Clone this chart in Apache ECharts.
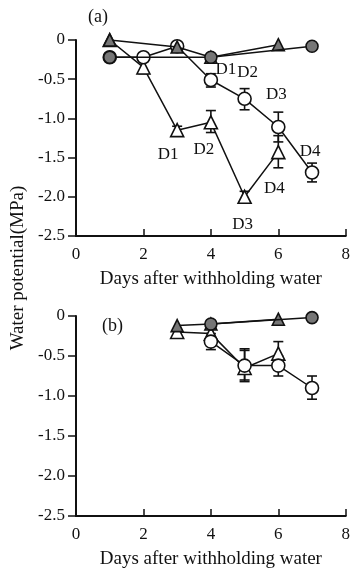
<!DOCTYPE html>
<html>
<head>
<meta charset="utf-8">
<style>
html,body{margin:0;padding:0;background:#fff;}
#chart{width:353px;height:573px;}
</style>
<script src="https://cdn.jsdelivr.net/npm/echarts@6/dist/echarts.min.js"></script>
</head>
<body>
<div id="chart"></div>
<script>
// ---------- DATA ----------
// x tick values and y tick values
const xTicks = [0, 2, 4, 6, 8];
const yTicks = [0, -0.5, -1.0, -1.5, -2.0, -2.5];

// Panel (a)
const aFilledCircleDays = [1, 4, 7];
const aFilledCircleVals = [-0.22, -0.22, -0.08];
const aFilledTriDays = [1, 3, 4, 6];
const aFilledTriVals = [0, -0.09, -0.22, -0.06];
const aOpenCircleDays = [1, 2, 3, 4, 5, 6, 7];
const aOpenCircleVals = [-0.22, -0.22, -0.08, -0.51, -0.75, -1.11, -1.69];
const aOpenCircleErrLo = [null, -0.25, -0.11, -0.60, -0.89, -1.30, -1.81];
const aOpenCircleErrHi = [null, -0.19, -0.05, -0.43, -0.62, -0.92, -1.57];
const aOpenCircleLabels = ['', '', '', 'D1', 'D2', 'D3', 'D4'];
const aOpenTriDays = [1, 2, 3, 4, 5, 6];
const aOpenTriVals = [0, -0.35, -1.15, -1.05, -2.0, -1.43];
const aOpenTriErrLo = [null, -0.43, -1.20, -1.18, -2.08, -1.63];
const aOpenTriErrHi = [null, -0.27, -1.10, -0.90, -1.93, -1.22];
const aOpenTriLabels = ['', '', 'D1', 'D2', 'D3', 'D4'];

// Panel (b)
const bFilledCircleDays = [4, 7];
const bFilledCircleVals = [-0.10, -0.02];
const bFilledTriDays = [3, 4, 6];
const bFilledTriVals = [-0.12, -0.10, -0.04];
const bOpenCircleDays = [4, 5, 6, 7];
const bOpenCircleVals = [-0.32, -0.62, -0.62, -0.90];
const bOpenCircleErrLo = [-0.42, -0.80, -0.75, -1.04];
const bOpenCircleErrHi = [-0.22, -0.41, -0.50, -0.75];
const bOpenTriDays = [3, 4, 5, 6];
const bOpenTriVals = [-0.20, -0.22, -0.65, -0.47];
const bOpenTriErrLo = [null, null, -0.82, -0.58];
const bOpenTriErrHi = [null, null, -0.43, -0.32];

// ---------- STYLE ----------
const FONT = '"Liberation Serif", "DejaVu Serif", serif';
const INK = '#111';
const GRAYFILL = '#767676';

// label offsets (pixels) for D-annotations
const openCircleLabelOffsets = {3: [15, -10], 4: [3, -26], 5: [-2, -32], 6: [-2, -21]};
const openTriLabelOffsets = {2: [-9, 24], 3: [-7, 27], 4: [-2, 28], 5: [-4, 36]};

function pts(days, vals, labels, offsets) {
  return days.map((d, i) => {
    const item = {value: [d, vals[i]]};
    if (labels && labels[i]) {
      item.label = {
        show: true, formatter: labels[i], position: 'inside',
        offset: offsets[i], color: INK, fontFamily: FONT, fontSize: 17
      };
    }
    return item;
  });
}
function errs(days, lo, hi) {
  const out = [];
  days.forEach((d, i) => {
    if (lo[i] != null && hi[i] != null) out.push([d, lo[i], hi[i]]);
  });
  return out;
}

function errorSeries(idx, data) {
  return {
    type: 'custom', xAxisIndex: idx, yAxisIndex: idx, z: 1,
    renderItem: function (params, api) {
      const x = api.value(0);
      const pLo = api.coord([x, api.value(1)]);
      const pHi = api.coord([x, api.value(2)]);
      const w = 5;
      const st = {stroke: INK, lineWidth: 1.6};
      return {
        type: 'group',
        children: [
          {type: 'line', shape: {x1: pLo[0], y1: pLo[1], x2: pHi[0], y2: pHi[1]}, style: st},
          {type: 'line', shape: {x1: pLo[0] - w, y1: pLo[1], x2: pLo[0] + w, y2: pLo[1]}, style: st},
          {type: 'line', shape: {x1: pHi[0] - w, y1: pHi[1], x2: pHi[0] + w, y2: pHi[1]}, style: st}
        ]
      };
    },
    data: data,
    silent: true
  };
}

function lineSeries(idx, data, symbol, filled, size, z) {
  return {
    type: 'line', xAxisIndex: idx, yAxisIndex: idx, z: z,
    data: data, symbol: symbol, symbolSize: size, showAllSymbol: true,
    lineStyle: {color: INK, width: 1.5},
    itemStyle: {color: filled ? GRAYFILL : '#fff', borderColor: INK, borderWidth: 1.6},
    emphasis: {disabled: true},
    animation: false
  };
}

function xAxis(idx) {
  return {
    type: 'value', gridIndex: idx, min: 0, max: 8, interval: 2,
    name: 'Days after withholding water', nameLocation: 'middle', nameGap: 34,
    nameTextStyle: {fontFamily: FONT, fontSize: 19, color: INK},
    axisLine: {show: true, onZero: false, lineStyle: {color: INK, width: 2}},
    axisTick: {show: true, inside: true, length: 7, lineStyle: {color: INK, width: 1.5}},
    axisLabel: {fontFamily: FONT, fontSize: 17, color: INK, margin: 10,
      formatter: v => xTicks.includes(v) ? String(v) : ''},
    splitLine: {show: false}
  };
}
function yAxis(idx) {
  return {
    type: 'value', gridIndex: idx, min: -2.5, max: 0, interval: 0.5,
    axisLine: {show: true, lineStyle: {color: INK, width: 2}},
    axisTick: {show: true, inside: false, length: 8, lineStyle: {color: INK, width: 1.5}},
    axisLabel: {fontFamily: FONT, fontSize: 17, color: INK, margin: 11,
      formatter: v => {
        const t = yTicks.find(y => Math.abs(y - v) < 1e-9);
        if (t === undefined) return '';
        return t === 0 ? '0' : t.toFixed(1);
      }},
    splitLine: {show: false}
  };
}

const chart = echarts.init(document.getElementById('chart'), null, {renderer: 'canvas'});
chart.setOption({
  backgroundColor: '#fff',
  animation: false,
  grid: [
    {left: 76, top: 40, width: 274, height: 196},
    {left: 76, top: 316, width: 274, height: 200}
  ],
  xAxis: [xAxis(0), xAxis(1)],
  yAxis: [yAxis(0), yAxis(1)],
  graphic: [
    {type: 'text', left: 88, top: 8, style: {text: '(a)', font: '18px ' + FONT, fill: INK}},
    {type: 'text', left: 102, top: 317, style: {text: '(b)', font: '18px ' + FONT, fill: INK}},
    {type: 'text', x: 18, y: 268, rotation: Math.PI / 2,
      style: {text: 'Water potential(MPa)', font: '19px ' + FONT, fill: INK,
        textAlign: 'center', textVerticalAlign: 'middle'}}
  ],
  series: [
    errorSeries(0, errs(aOpenCircleDays, aOpenCircleErrLo, aOpenCircleErrHi)),
    errorSeries(0, errs(aOpenTriDays, aOpenTriErrLo, aOpenTriErrHi)),
    lineSeries(0, pts(aOpenTriDays, aOpenTriVals, aOpenTriLabels, openTriLabelOffsets), 'triangle', false, 13, 2),
    lineSeries(0, pts(aOpenCircleDays, aOpenCircleVals, aOpenCircleLabels, openCircleLabelOffsets), 'circle', false, 13, 3),
    lineSeries(0, pts(aFilledTriDays, aFilledTriVals), 'triangle', true, 12, 4),
    lineSeries(0, pts(aFilledCircleDays, aFilledCircleVals), 'circle', true, 12, 5),

    errorSeries(1, errs(bOpenCircleDays, bOpenCircleErrLo, bOpenCircleErrHi)),
    errorSeries(1, errs(bOpenTriDays, bOpenTriErrLo, bOpenTriErrHi)),
    lineSeries(1, pts(bOpenTriDays, bOpenTriVals), 'triangle', false, 13, 2),
    lineSeries(1, pts(bOpenCircleDays, bOpenCircleVals), 'circle', false, 13, 3),
    lineSeries(1, pts(bFilledTriDays, bFilledTriVals), 'triangle', true, 12, 4),
    lineSeries(1, pts(bFilledCircleDays, bFilledCircleVals), 'circle', true, 12, 5)
  ]
});
</script>
</body>
</html>
